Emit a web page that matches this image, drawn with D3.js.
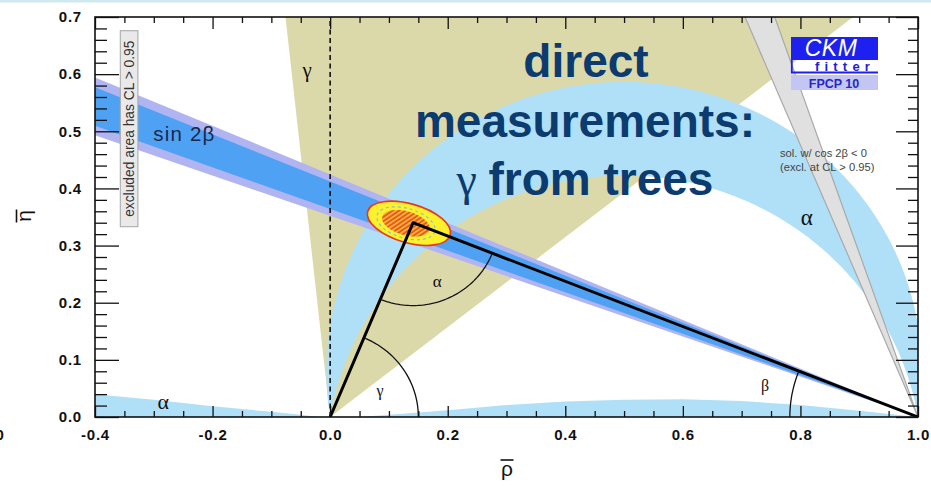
<!DOCTYPE html>
<html><head><meta charset="utf-8">
<script src="https://cdn.jsdelivr.net/npm/d3@7"></script>
<style>body{margin:0;background:#fff}svg{display:block}</style>
</head><body><svg id="c" width="931" height="486"></svg>
<script>
// ---------- data ----------
const xDomain = [-0.4, 1.0];
const yDomain = [0, 0.7];
const xMajorTicks = [-0.4, -0.2, 0.0, 0.2, 0.4, 0.6, 0.8, 1.0];
const xTickLabels = ["-0.4", "-0.2", "0.0", "0.2", "0.4", "0.6", "0.8", "1.0"];
const yMajorTicks = [0.0, 0.1, 0.2, 0.3, 0.4, 0.5, 0.6, 0.7];
const yTickLabels = ["0.0", "0.1", "0.2", "0.3", "0.4", "0.5", "0.6", "0.7"];
const xMinorStep = 0.05;
const yMinorStep = 0.02;

const gammaRangeDeg = [38.2, 96.2];          // gamma wedge from (0,0)
const alphaRangeDeg = [80.9, 99.6];          // alpha band (circles through (0,0),(1,0))
const sin2bOuterDeg = [19.4, 23.0];          // sin 2beta 95% band, beta angles at (1,0)
const sin2bInnerDeg = [20.0, 22.4];          // sin 2beta 68% band
const cos2bNegDeg = [67.2, 70.8];            // cos 2beta < 0 solution
const alphaSliverLeft = [[-0.4,0],[-0.4,0.040],[-0.3,0.030],[-0.2,0.019],[-0.1,0.009],[-0.05,0.004],[-0.02,0.0]];
const alphaSliverRight = [[0.05,0],[0.1,0.004],[0.15,0.008],[0.2,0.012],[0.3,0.021],[0.4,0.027],[0.5,0.030],[0.6,0.031],[0.7,0.028],[0.8,0.021],[0.9,0.011],[1.0,0]];
const apex = [0.141, 0.340];
const fitCenter = [0.134, 0.339];
const fitInnerCenter = [0.129, 0.339];
const fitOuterRadii = [0.073, 0.034];
const fitDashRadii = [0.051, 0.026];
const fitInnerRadii = [0.042, 0.021];
const fitTiltDeg = 16;
const arcRadii = {alpha: 0.145, gamma: 0.15, beta: 0.218};
const greekLabels = [
  {t:"γ", p:[-0.039, 0.608], s:21},
  {t:"α", p:[0.811, 0.349], s:23},
  {t:"α", p:[-0.284, 0.027], s:22},
  {t:"α", p:[0.182, 0.238], s:17},
  {t:"γ", p:[0.085, 0.046], s:16},
  {t:"β", p:[0.740, 0.056], s:16}
];
const titleLines = ["direct", "measurements:", "from trees"];

// ---------- scales ----------
const svg = d3.select("#c");
const x = d3.scaleLinear().domain(xDomain).range([95, 918]);
const y = d3.scaleLinear().domain(yDomain).range([417, 17]);
const line = d3.line().x(d => x(d[0])).y(d => y(d[1]));
const rad = a => a * Math.PI / 180;

svg.append("rect").attr("width", 931).attr("height", 2.5).attr("fill", "#cfe9ef");

const defs = svg.append("defs");
defs.append("clipPath").attr("id", "plot").append("rect")
  .attr("x", x(xDomain[0])).attr("y", y(yDomain[1]))
  .attr("width", x(xDomain[1]) - x(xDomain[0])).attr("height", y(yDomain[0]) - y(yDomain[1]));
const pat = defs.append("pattern").attr("id", "hatch").attr("patternUnits", "userSpaceOnUse")
  .attr("width", 3.6).attr("height", 3.6).attr("patternTransform", "rotate(40)");
pat.append("rect").attr("width", 3.6).attr("height", 3.6).attr("fill", "#fbb234");
pat.append("line").attr("x1", 1).attr("y1", 0).attr("x2", 1).attr("y2", 3.6).attr("stroke", "#e2461d").attr("stroke-width", 1.5);

const g = svg.append("g").attr("clip-path", "url(#plot)");

function wedge(origin, dirs) {
  const L = 3;
  return [origin, ...dirs.map(a => [origin[0] + L * Math.cos(rad(a)), origin[1] + L * Math.sin(rad(a))])];
}
function alphaArc(aDeg) {
  const a = rad(aDeg), c = 0.5 / Math.tan(a), R = 0.5 / Math.sin(a);
  const s = Math.atan2(-c, 0.5), e = Math.PI - s;
  return d3.range(0, 201).map(i => { const t = s + (e - s) * i / 200; return [0.5 + R * Math.cos(t), c + R * Math.sin(t)]; });
}
function arcPts(center, r, a0, a1) {
  return d3.range(0, 61).map(i => { const t = rad(a0 + (a1 - a0) * i / 60); return [center[0] + r * Math.cos(t), center[1] + r * Math.sin(t)]; });
}

// gamma wedge
g.append("path").attr("d", line(wedge([0, 0], gammaRangeDeg)) + "Z").attr("fill", "#dbd9aa");
// alpha band
const band = alphaArc(alphaRangeDeg[0]).concat(alphaArc(alphaRangeDeg[1]).reverse());
g.append("path").attr("d", line(band) + "Z").attr("fill", "#afe0f7");
g.append("path").attr("d", line(alphaSliverLeft) + "Z").attr("fill", "#afe0f7");
g.append("path").attr("d", line(alphaSliverRight) + "Z").attr("fill", "#afe0f7");
// sin 2beta bands
g.append("path").attr("d", line(wedge([1, 0], sin2bOuterDeg.map(b => 180 - b))) + "Z").attr("fill", "#b0b4f1");
g.append("path").attr("d", line(wedge([1, 0], sin2bInnerDeg.map(b => 180 - b))) + "Z").attr("fill", "#4fa2f3");
// cos 2beta < 0
g.append("path").attr("d", line(wedge([1, 0], cos2bNegDeg.map(b => 180 - b))) + "Z")
  .attr("fill", "#e0e0e0").attr("stroke", "#a9a9a9").attr("stroke-width", 1.2);
// dashed rho = 0
g.append("line").attr("x1", x(0)).attr("x2", x(0)).attr("y1", y(yDomain[0])).attr("y2", y(yDomain[1]))
  .attr("stroke", "#111").attr("stroke-width", 1.6).attr("stroke-dasharray", "5,3.5");

// global fit ellipse
function ell(center, radii, attrs) {
  const cx = x(center[0]), cy = y(center[1]);
  const e = g.append("ellipse").attr("cx", cx).attr("cy", cy)
    .attr("rx", x(center[0] + radii[0]) - cx).attr("ry", cy - y(center[1] + radii[1]))
    .attr("transform", `rotate(${fitTiltDeg},${cx},${cy})`);
  Object.entries(attrs).forEach(([k, v]) => e.attr(k, v));
}
ell(fitCenter, fitOuterRadii, {fill: "#fdf12c", stroke: "#e5381f", "stroke-width": 1.6});
ell(fitInnerCenter, fitDashRadii, {fill: "none", stroke: "#7fc6cf", "stroke-width": 1.2, "stroke-dasharray": "3,3"});
ell(fitInnerCenter, fitInnerRadii, {fill: "url(#hatch)", stroke: "none"});

// triangle
g.append("path").attr("d", line([[0, 0], apex, [1, 0]])).attr("fill", "none")
  .attr("stroke", "#000").attr("stroke-width", 3).attr("stroke-linejoin", "round");
// angle arcs
const dirO = Math.atan2(-apex[1], -apex[0]) * 180 / Math.PI;
const dirB = Math.atan2(-apex[1], 1 - apex[0]) * 180 / Math.PI;
const gammaApex = Math.atan2(apex[1], apex[0]) * 180 / Math.PI;
const betaApex = Math.atan2(apex[1], 1 - apex[0]) * 180 / Math.PI;
[[apex, arcRadii.alpha, dirO, dirB], [[0, 0], arcRadii.gamma, 0, gammaApex], [[1, 0], arcRadii.beta, 180 - betaApex, 180]]
  .forEach(([c, r, a0, a1]) => g.append("path").attr("d", line(arcPts(c, r, a0, a1)))
    .attr("fill", "none").attr("stroke", "#111").attr("stroke-width", 1.3));

// greek labels
greekLabels.forEach(l => svg.append("text").attr("x", x(l.p[0])).attr("y", y(l.p[1]))
  .attr("text-anchor", "middle").attr("dominant-baseline", "central")
  .attr("font-family", "Liberation Serif, serif").attr("font-size", l.s).attr("fill", "#111").text(l.t));

// sin 2beta label
svg.append("text").attr("x", x(-0.248)).attr("y", y(0.497)).attr("text-anchor", "middle").attr("dominant-baseline", "central")
  .attr("font-family", "Liberation Sans, Arial, sans-serif").attr("font-size", 20.5).attr("letter-spacing", 1.2)
  .attr("fill", "#18284e").text("sin 2β");

// excluded area box
const bx0 = x(-0.357), bx1 = x(-0.327), by0 = y(0.676), by1 = y(0.333);
svg.append("rect").attr("x", bx0).attr("y", by0).attr("width", bx1 - bx0).attr("height", by1 - by0)
  .attr("fill", "#e9e9e9").attr("stroke", "#a5a5a5").attr("stroke-width", 1);
svg.append("text").attr("transform", `translate(${(bx0 + bx1) / 2 + 0.5},${(by0 + by1) / 2}) rotate(-90)`)
  .attr("text-anchor", "middle").attr("dominant-baseline", "central")
  .attr("font-family", "Liberation Sans, Arial, sans-serif").attr("font-size", 13.8).attr("fill", "#333")
  .text("excluded area has CL > 0.95");

// sol. text
const solT = svg.append("text").attr("font-family", "Liberation Sans, Arial, sans-serif").attr("font-size", 11.2).attr("fill", "#444");
solT.append("tspan").attr("x", 780).attr("y", 157).text("sol. w/ cos 2β < 0");
solT.append("tspan").attr("x", 780).attr("y", 171).text("(excl. at CL > 0.95)");

// CKMfitter logo
svg.append("rect").attr("x", 791).attr("y", 37).attr("width", 87).attr("height", 23).attr("fill", "#1d20ee");
svg.append("text").attr("x", 831).attr("y", 55.5).attr("text-anchor", "middle").attr("font-family", "Liberation Sans, Arial, sans-serif")
  .attr("font-style", "italic").attr("font-size", 23).attr("fill", "#fff").attr("letter-spacing", 0.5).text("CKM");
svg.append("path").attr("d", "M791.8,59 V72.5 H878").attr("fill", "none").attr("stroke", "#1d20ee").attr("stroke-width", 1.8);
svg.append("text").attr("x", 815).attr("y", 70.5).attr("font-family", "Liberation Sans, Arial, sans-serif")
  .attr("font-weight", "bold").attr("font-size", 13).attr("letter-spacing", 5.2).attr("fill", "#1d20d8").text("fitter");
svg.append("rect").attr("x", 791).attr("y", 75).attr("width", 87).attr("height", 15).attr("fill", "#c3c6f2");
svg.append("text").attr("x", 834).attr("y", 87.5).attr("text-anchor", "middle").attr("font-family", "Liberation Sans, Arial, sans-serif")
  .attr("font-weight", "bold").attr("font-size", 12.5).attr("fill", "#2626c6").text("FPCP 10");

// ---------- axes ----------
const axFont = sel => sel.selectAll("text").attr("font-family", "Liberation Sans, Arial, sans-serif")
  .attr("font-weight", "bold").attr("font-size", 15).attr("letter-spacing", 0.8).attr("fill", "#111");
const isMajor = (v, majors) => majors.some(m => Math.abs(m - v) < 1e-9);
const xMinor = d3.range(0, Math.round((xDomain[1] - xDomain[0]) / xMinorStep) + 1).map(i => +(xDomain[0] + i * xMinorStep).toFixed(3)).filter(v => !isMajor(v, xMajorTicks));
const yMinor = d3.range(0, Math.round((yDomain[1] - yDomain[0]) / yMinorStep) + 1).map(i => +(yDomain[0] + i * yMinorStep).toFixed(3)).filter(v => !isMajor(v, yMajorTicks));

function addAxis(axis, transform, values, size, labels, pad) {
  const a = axis.tickValues(values).tickSizeInner(-size).tickSizeOuter(0).tickPadding(pad || 3)
    .tickFormat(labels ? (d, i) => labels[i] : () => "");
  const sel = svg.append("g").attr("transform", transform).call(a);
  sel.select(".domain").remove();
  sel.selectAll("line").attr("stroke", "#111").attr("stroke-width", 1.3);
  axFont(sel);
  return sel;
}
const yB = y(yDomain[0]), yT = y(yDomain[1]), xL = x(xDomain[0]), xR = x(xDomain[1]);
addAxis(d3.axisBottom(x), `translate(0,${yB})`, xMajorTicks, 11, xTickLabels, 12);
addAxis(d3.axisBottom(x), `translate(0,${yB})`, xMinor, 6);
addAxis(d3.axisTop(x), `translate(0,${yT})`, xMajorTicks, 12);
addAxis(d3.axisTop(x), `translate(0,${yT})`, xMinor, 6);
addAxis(d3.axisLeft(y), `translate(${xL},0)`, yMajorTicks, 24, yTickLabels, 13);
addAxis(d3.axisLeft(y), `translate(${xL},0)`, yMinor, 12);
addAxis(d3.axisRight(y), `translate(${xR},0)`, yMajorTicks, 22);
addAxis(d3.axisRight(y), `translate(${xR},0)`, yMinor, 10);
svg.append("rect").attr("x", xL).attr("y", yT).attr("width", xR - xL).attr("height", yB - yT)
  .attr("fill", "none").attr("stroke", "#111").attr("stroke-width", 1.6);

// cut-off label at left edge (as in the reference)
svg.append("text").attr("x", -4.5).attr("y", 440).attr("font-family", "Liberation Sans, Arial, sans-serif")
  .attr("font-weight", "bold").attr("font-size", 15).attr("fill", "#111").text("0");

// axis titles
svg.append("text").attr("x", 507).attr("y", 476).attr("text-anchor", "middle")
  .attr("font-family", "Liberation Sans, Arial, sans-serif").attr("font-size", 21).attr("fill", "#111").text("ρ");
svg.append("line").attr("x1", 500.5).attr("x2", 513.5).attr("y1", 460).attr("y2", 460).attr("stroke", "#111").attr("stroke-width", 1.6);
const yt = svg.append("g").attr("transform", "translate(31,216) rotate(-90)");
yt.append("text").attr("x", 0).attr("y", 0).attr("text-anchor", "middle")
  .attr("font-family", "Liberation Sans, Arial, sans-serif").attr("font-size", 21).attr("fill", "#111").text("η");
yt.append("line").attr("x1", -6.5).attr("x2", 6.5).attr("y1", -14.5).attr("y2", -14.5).attr("stroke", "#111").attr("stroke-width", 1.6);

// overlay title
const tt = svg.append("text").attr("text-anchor", "middle").attr("font-family", "Liberation Sans, Arial, sans-serif")
  .attr("font-weight", "bold").attr("font-size", 46).attr("fill", "#0b3b6f");
tt.append("tspan").attr("x", 586).attr("y", 77).text(titleLines[0]);
tt.append("tspan").attr("x", 585).attr("y", 137).text(titleLines[1]);
const l3 = tt.append("tspan").attr("x", 585).attr("y", 195);
l3.append("tspan").attr("font-family", "Liberation Serif, serif").attr("font-weight", "normal").text("γ ");
l3.append("tspan").text(titleLines[2]);
</script>
</body></html>
